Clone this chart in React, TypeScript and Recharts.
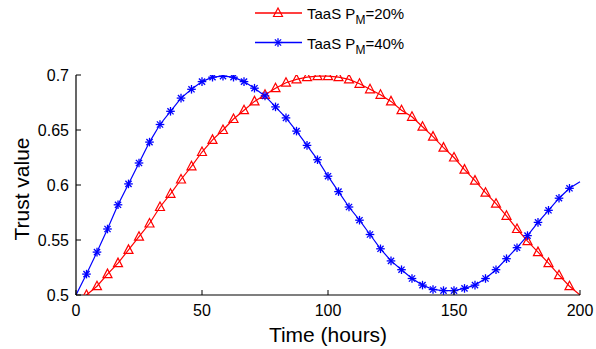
import { Legend, Line, LineChart, XAxis, YAxis } from "recharts";

// time stamps of the samples (hours)
const hours = [
  0, 4.17, 8.33, 12.5, 16.67, 20.83, 25, 29.17, 33.33, 37.5, 41.67, 45.83, 50,
  54.17, 58.33, 62.5, 66.67, 70.83, 75, 79.17, 83.33, 87.5, 91.67, 95.83, 100,
  104.17, 108.33, 112.5, 116.67, 120.83, 125, 129.17, 133.33, 137.5, 141.67,
  145.83, 150, 154.17, 158.33, 162.5, 166.67, 170.83, 175, 179.17, 183.33,
  187.5, 191.67, 195.83, 200,
];

// TaaS P_M=20%
const taas20 = [
  null, 0.5, 0.508, 0.519, 0.529, 0.541, 0.553, 0.565, 0.58, 0.592, 0.605,
  0.617, 0.63, 0.641, 0.65, 0.66, 0.668, 0.676, 0.682, 0.688, 0.693, 0.696,
  0.698, 0.699, 0.699, 0.698, 0.696, 0.692, 0.687, 0.682, 0.676, 0.668, 0.662,
  0.653, 0.644, 0.634, 0.625, 0.614, 0.604, 0.593, 0.583, 0.572, 0.56, 0.549,
  0.539, 0.529, 0.518, 0.508, 0.5,
];

// TaaS P_M=40%
const taas40 = [
  0.5, 0.519, 0.539, 0.56, 0.582, 0.601, 0.62, 0.639, 0.655, 0.667, 0.679,
  0.687, 0.694, 0.698, 0.699, 0.698, 0.694, 0.688, 0.681, 0.671, 0.661, 0.649,
  0.636, 0.623, 0.608, 0.594, 0.58, 0.568, 0.555, 0.542, 0.531, 0.523, 0.515,
  0.509, 0.505, 0.504, 0.504, 0.506, 0.509, 0.515, 0.523, 0.533, 0.543, 0.554,
  0.566, 0.577, 0.588, 0.597, 0.603,
];

const xTicks = [0, 50, 100, 150, 200];
const yTicks = [0.5, 0.55, 0.6, 0.65, 0.7];
const legendLabels = ["20%", "40%"];

const data = hours.map((h, i) => ({ hours: h, pm20: taas20[i], pm40: taas40[i] }));

const FONT = "'Liberation Sans', Arial, sans-serif";
const RED = "#ff0000";
const BLUE = "#0000ff";

const showMarker = (i: number) => i > 0 && i < hours.length - 1;

const Triangle = ({ cx, cy }: { cx: number; cy: number }) => (
  <polygon
    points={`${cx},${cy - 5} ${cx - 4.5},${cy + 3.5} ${cx + 4.5},${cy + 3.5}`}
    fill="none"
    stroke={RED}
    strokeWidth={1.2}
  />
);

const Asterisk = ({ cx, cy }: { cx: number; cy: number }) => {
  const r = 4.3;
  const d = r * 0.72;
  return (
    <g stroke={BLUE} strokeWidth={1.3}>
      <line x1={cx - r} y1={cy} x2={cx + r} y2={cy} />
      <line x1={cx} y1={cy - r} x2={cx} y2={cy + r} />
      <line x1={cx - d} y1={cy - d} x2={cx + d} y2={cy + d} />
      <line x1={cx - d} y1={cy + d} x2={cx + d} y2={cy - d} />
    </g>
  );
};

const redDot = (p: any) =>
  showMarker(p.index) && p.cy != null ? (
    <Triangle key={p.index} cx={p.cx} cy={p.cy} />
  ) : (
    <g key={p.index} />
  );

const blueDot = (p: any) =>
  showMarker(p.index) && p.cy != null ? (
    <Asterisk key={p.index} cx={p.cx} cy={p.cy} />
  ) : (
    <g key={p.index} />
  );

const XTick = ({ x, y, payload }: any) => (
  <g>
    <line x1={x} y1={y} x2={x} y2={y - 5} stroke="#000" />
    <text x={x} y={y + 21} textAnchor="middle" fontSize={16} fill="#000" fontFamily={FONT}>
      {payload.value}
    </text>
  </g>
);

const YTick = ({ x, y, payload }: any) => (
  <g>
    <line x1={x} y1={y} x2={x + 5} y2={y} stroke="#000" />
    <text x={x - 7} y={y} dy="0.36em" textAnchor="end" fontSize={16} fill="#000" fontFamily={FONT}>
      {String(payload.value)}
    </text>
  </g>
);

const LegendBox = () => (
  <svg width={200} height={60} style={{ display: "block" }}>
    {legendLabels.map((lab, i) => {
      const y = 13 + i * 29.5;
      return (
        <g key={lab}>
          <line x1={5} y1={y} x2={52} y2={y} stroke={i === 0 ? RED : BLUE} strokeWidth={1.3} />
          {i === 0 ? <Triangle cx={28} cy={y} /> : <Asterisk cx={28} cy={y} />}
          <text x={57} y={y + 6} fontSize={15} fill="#000" fontFamily={FONT}>
            TaaS P
            <tspan dy={5} fontSize={12}>M</tspan>
            <tspan dy={-5}>={lab}</tspan>
          </text>
        </g>
      );
    })}
  </svg>
);

export default function App() {
  return (
    <div style={{ width: 596, height: 349 }}>
      <style>{"body{margin:0}"}</style>
      <LineChart
        width={596}
        height={349}
        data={data}
        margin={{ top: 75, right: 16, bottom: 0, left: 0 }}
        style={{ fontFamily: FONT }}
      >
        <XAxis
          dataKey="hours"
          type="number"
          domain={[0, 200]}
          ticks={xTicks}
          height={54}
          tickSize={0}
          tickMargin={0}
          tickLine={false}
          tick={<XTick />}
          axisLine={{ stroke: "#000", strokeWidth: 1.2 }}
          label={{
            value: "Time (hours)",
            position: "insideBottom",
            offset: 7,
            fontSize: 21,
            fill: "#000",
            fontFamily: FONT,
          }}
        />
        <YAxis
          type="number"
          domain={[0.5, 0.7]}
          ticks={yTicks}
          width={76}
          tickSize={0}
          tickMargin={0}
          tickLine={false}
          tick={<YTick />}
          allowDataOverflow
          axisLine={{ stroke: "#000", strokeWidth: 1.2 }}
          label={{
            value: "Trust value",
            angle: -90,
            position: "insideLeft",
            offset: 22,
            dy: 4,
            fontSize: 21,
            fill: "#000",
            fontFamily: FONT,
            style: { textAnchor: "middle" },
          }}
        />
        <Legend
          layout="vertical"
          align="center"
          verticalAlign="middle"
          content={<LegendBox />}
          wrapperStyle={{ top: 0, left: 250, width: 200, height: 60 }}
        />
        <Line
          type="linear"
          dataKey="pm20"
          stroke={RED}
          strokeWidth={1.2}
          dot={redDot}
          activeDot={false}
          isAnimationActive={false}
        />
        <Line
          type="linear"
          dataKey="pm40"
          stroke={BLUE}
          strokeWidth={1.2}
          dot={blueDot}
          activeDot={false}
          isAnimationActive={false}
        />
      </LineChart>
    </div>
  );
}
